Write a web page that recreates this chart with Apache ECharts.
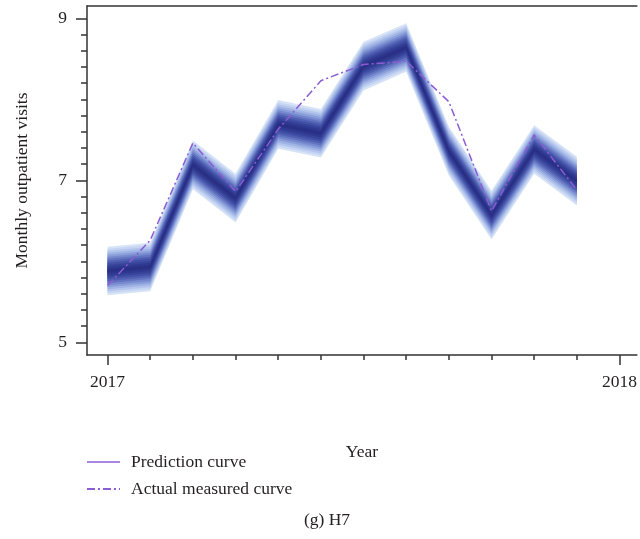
<!DOCTYPE html>
<html>
<head>
<meta charset="utf-8">
<script src="https://cdn.jsdelivr.net/npm/echarts@6/dist/echarts.min.js"></script>
<style>html,body{margin:0;padding:0;background:#fff}#c{width:640px;height:539px}</style>
</head>
<body>
<div id="c"></div>
<script>
// months from Jan 2017 (0) to Dec 2017 (11)
const months = [0,1,2,3,4,5,6,7,8,9,10,11];
const prediction = [5.88, 5.93, 7.19, 6.78, 7.69, 7.58, 8.41, 8.64, 7.36, 6.57, 7.38, 6.99];
const actual = [5.70, 6.26, 7.46, 6.86, 7.63, 8.23, 8.43, 8.47, 7.97, 6.62, 7.56, 6.88];
// half widths of the prediction fan layers (outer to inner)
const bandOffsets = [0.30,0.275,0.25,0.225,0.20,0.175,0.15,0.125,0.10,0.075,0.05,0.025];
const bandColors = ['#d7e3f7','#c6d5f2','#b3c5ec','#9fb3e4','#8a9fda','#7689ce','#6273c0','#505fb2','#4150a5','#364399','#2f3990','#2b3388'];
const xMajorTicks = [0, 12];
const xTickLabels = ['2017', '2018'];
const xMinorTicks = [1,2,3,4,5,6,7,8,9,10,11];
const yMajorTicks = [5, 7, 9];
const yMinorTicks = [5.2,5.4,5.6,5.8,6.0,6.2,6.4,6.6,6.8,7.2,7.4,7.6,7.8,8.0,8.2,8.4,8.6,8.8];

const FONT = 'Liberation Serif';
const FS = 17.5;
const TXT = '#231f20';
const AX = '#333333';
const xMin = -0.4825, xMax = 12.408;
const yMin = 4.843, yMax = 9.152;

const series = [];
// fan band: one polygon per layer, built from the data through the axes
series.push({
  name: 'band', type: 'custom', silent: true, clip: true,
  xAxisIndex: 0, yAxisIndex: 0,
  data: bandOffsets.map((off, i) => [i]),
  renderItem: function (params, api) {
    const i = api.value(0);
    const off = bandOffsets[i];
    const upper = months.map((m, j) => api.coord([m, prediction[j] + off]));
    const lower = months.map((m, j) => api.coord([m, prediction[j] - off])).reverse();
    return {
      type: 'polygon',
      shape: {points: upper.concat(lower)},
      style: {fill: bandColors[i], stroke: null}
    };
  }
});
series.push({
  name: 'Prediction curve', type: 'line', symbol: 'none', showSymbol: false,
  lineStyle: {color: '#2a2f85', width: 1.5},
  data: months.map((m, j) => [m, prediction[j]])
});
series.push({
  name: 'Actual measured curve', type: 'line', symbol: 'none', showSymbol: false,
  lineStyle: {color: '#8c5cd4', width: 1.5, type: [8, 3, 2, 3]},
  data: months.map((m, j) => [m, actual[j]])
});

const chart = echarts.init(document.getElementById('c'));
chart.setOption({
  animation: false,
  backgroundColor: '#fff',
  textStyle: {fontFamily: FONT, color: TXT},
  grid: {left: 87, right: 0, top: 6, bottom: 184, containLabel: false},
  xAxis: [
    {
      type: 'value', position: 'bottom', min: xMin, max: xMax,
      axisLine: {show: true, onZero: false, lineStyle: {color: AX, width: 1.5}},
      axisTick: {show: true, customValues: xMajorTicks, length: 10, lineStyle: {color: AX, width: 1.5}},
      axisLabel: {show: true, customValues: xMajorTicks, margin: 18, fontFamily: FONT, fontSize: FS, color: TXT,
        formatter: v => xTickLabels[xMajorTicks.indexOf(v)]},
      splitLine: {show: false},
      name: 'Year', nameLocation: 'middle', nameGap: 88,
      nameTextStyle: {fontFamily: FONT, fontSize: FS, color: TXT}
    },
    {
      type: 'value', position: 'bottom', min: xMin, max: xMax,
      axisLine: {show: false, onZero: false},
      axisTick: {show: true, customValues: xMinorTicks, length: 5, lineStyle: {color: AX, width: 1.5}},
      axisLabel: {show: false}, splitLine: {show: false}
    },
    {
      type: 'value', position: 'top', min: xMin, max: xMax,
      axisLine: {show: true, onZero: false, lineStyle: {color: AX, width: 1.5}},
      axisTick: {show: false}, axisLabel: {show: false}, splitLine: {show: false}
    }
  ],
  yAxis: [
    {
      type: 'value', position: 'left', min: yMin, max: yMax,
      axisLine: {show: true, onZero: false, lineStyle: {color: AX, width: 1.5}},
      axisTick: {show: true, customValues: yMajorTicks, length: 11, lineStyle: {color: AX, width: 1.5}},
      axisLabel: {show: true, customValues: yMajorTicks, margin: 20, fontFamily: FONT, fontSize: FS, color: TXT},
      splitLine: {show: false},
      name: 'Monthly outpatient visits', nameLocation: 'middle', nameGap: 56,
      nameTextStyle: {fontFamily: FONT, fontSize: FS, color: TXT}
    },
    {
      type: 'value', position: 'left', min: yMin, max: yMax,
      axisLine: {show: false, onZero: false},
      axisTick: {show: true, customValues: yMinorTicks, length: 6, lineStyle: {color: AX, width: 1.5}},
      axisLabel: {show: false}, splitLine: {show: false}
    }
  ],
  legend: {
    orient: 'vertical', left: 86, top: 453, padding: 0,
    itemWidth: 33, itemHeight: 10, itemGap: 9,
    itemStyle: {opacity: 0},
    textStyle: {fontFamily: FONT, fontSize: FS, color: TXT, lineHeight: 17, padding: [0, 0, 0, 6]},
    data: [
      {name: 'Prediction curve', lineStyle: {color: '#8c5cd4', width: 1.5}},
      {name: 'Actual measured curve'}
    ]
  },
  graphic: [{
    type: 'text', x: 327, y: 520,
    style: {text: '(g) H7', textAlign: 'center', textVerticalAlign: 'middle', font: FS + 'px "Liberation Serif"', fill: TXT}
  }],
  series: series
});
</script>
</body>
</html>
